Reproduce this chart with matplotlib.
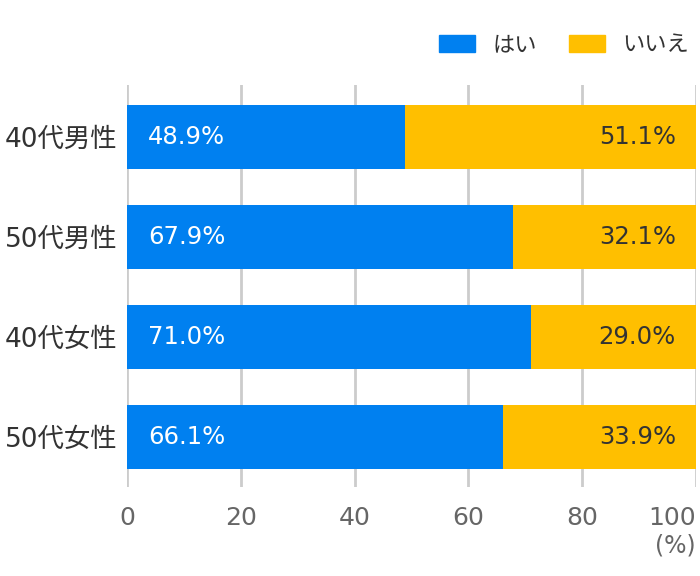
import matplotlib
matplotlib.use("Agg")
import matplotlib.pyplot as plt
from matplotlib.patches import Patch

plt.rcParams['font.family'] = ['DejaVu Sans', 'Noto Sans CJK JP']

categories = ["40代男性", "50代男性", "40代女性", "50代女性"]
yes_vals = [48.9, 67.9, 71.0, 66.1]
no_vals = [51.1, 32.1, 29.0, 33.9]
series_names = ["はい", "いいえ"]
xticks = [0, 20, 40, 60, 80, 100]

c_yes = "#0080F0"
c_no = "#FFBF00"

fig = plt.figure(figsize=(7, 5.76), dpi=100)
ax = fig.add_axes([127/700, 1-487/576, (696-127)/700, (487-85)/576])

pos = list(range(len(categories)))
ax.barh(pos, yes_vals, height=0.64, color=c_yes, zorder=3)
ax.barh(pos, no_vals, left=yes_vals, height=0.64, color=c_no, zorder=3)

for p, y, n in zip(pos, yes_vals, no_vals):
    ax.annotate(f"{y:.1f}%", xy=(0, p), xytext=(21, 0), textcoords="offset pixels",
                ha="left", va="center", color="white", fontsize=17.5, zorder=4)
    ax.annotate(f"{n:.1f}%", xy=(100, p), xytext=(-20, 0), textcoords="offset pixels",
                ha="right", va="center", color="#333333", fontsize=17.5, zorder=4)

ax.set_xlim(0, 100)
ax.set_ylim(3.5, -0.52)
ax.set_xticks(xticks)
ax.set_xticklabels([str(t) for t in xticks])
ax.get_xticklabels()[-1].set_horizontalalignment("right")
ax.set_yticks(pos)
ax.set_yticklabels(categories)
ax.tick_params(axis='x', length=0, pad=13.5, labelsize=18, labelcolor="#666666")
ax.tick_params(axis='y', length=0, pad=7, labelsize=19, labelcolor="#333333")
ax.grid(axis='x', color="#cccccc", linewidth=2, zorder=0)
for s in ax.spines.values():
    s.set_visible(False)

fig.text(696/700, 1-545/576, "(%)", ha="right", va="center", fontsize=17, color="#666666")

handles = [Patch(color=c_yes), Patch(color=c_no)]
fig.legend(handles, series_names, loc="center right", bbox_to_anchor=(702/700, 1-45/576),
           ncol=2, frameon=False, fontsize=16, handlelength=1.62, handleheight=0.77,
           handletextpad=0.77, columnspacing=1.44, labelcolor="#333333",
           borderaxespad=0.2)

fig.savefig("out.png", dpi=100)
